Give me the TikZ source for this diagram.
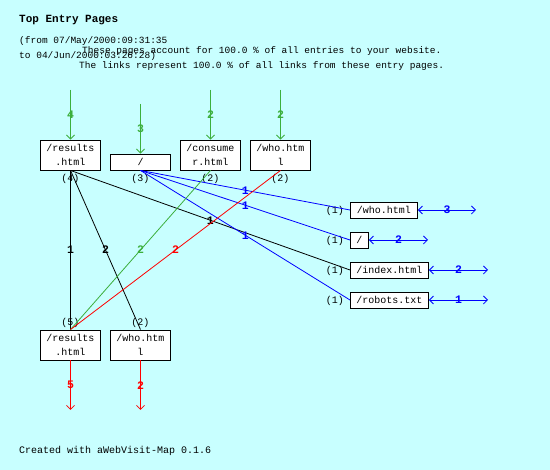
\documentclass[tikz,border=0pt]{standalone}
\usepackage{fontspec}
\setmainfont{Liberation Mono}
\usetikzlibrary{arrows.meta}
\definecolor{bg}{RGB}{200,255,255}
\definecolor{grn}{RGB}{60,175,60}
\definecolor{blu}{RGB}{0,0,255}
\definecolor{rd}{RGB}{255,0,0}
\begin{document}
\begin{tikzpicture}[x=1pt,y=-1pt,
 pg/.style={draw=black, fill=white, line width=0.9pt, inner sep=0pt, align=center, font=\fontsize{10}{14}\selectfont},
 cnt/.style={font=\fontsize{10}{12}\selectfont, inner sep=0pt},
 lbl/.style={font=\fontsize{11.5}{12}\selectfont\bfseries, inner sep=0pt},
 hdr/.style={font=\fontsize{9.5}{12}\selectfont, inner sep=0pt, anchor=west},
 ln/.style={line width=0.8pt},
 tip/.style={-{Straight Barb[length=4pt,width=8pt]}},
 dtip/.style={{Straight Barb[length=4pt,width=8pt]}-{Straight Barb[length=4pt,width=8pt]}},
]
\fill[bg] (0,0) rectangle (550,470);
\useasboundingbox (0,0) rectangle (550,470);

% header
\node[anchor=west, inner sep=0pt, font=\fontsize{11}{13}\selectfont\bfseries] (title) at (19,20) {Top Entry Pages};
\node[hdr] (from) at (19,41) {(from 07/May/2000:09:31:35};
\node[hdr] (to) at (19,56.5) {to 04/Jun/2000:03:26:28)};
\node[hdr] (acc) at (82,51.5) {These pages account for 100.0 \% of all entries to your website.};
\node[hdr] (lnk) at (79,66) {The links represent 100.0 \% of all links from these entry pages.};

% top row
\node[pg, minimum width=60, minimum height=30] (r1) at (70.5,155) {/results\\.html};
\node[pg, minimum width=60, minimum height=16] (s1) at (140.5,162) {/};
\node[pg, minimum width=60, minimum height=30] (c1) at (210.5,155) {/consume\\r.html};
\node[pg, minimum width=60, minimum height=30] (w1) at (280.5,155) {/who.htm\\l};

% bottom row
\node[pg, minimum width=60, minimum height=30] (r2) at (70.5,345) {/results\\.html};
\node[pg, minimum width=60, minimum height=30] (w2) at (140.5,345) {/who.htm\\l};

% right column
\node[pg, anchor=west, minimum width=67, minimum height=16] (rw) at (350,210) {/who.html};
\node[pg, anchor=west, minimum width=18, minimum height=16] (rs) at (350,240) {/};
\node[pg, anchor=west, minimum width=78, minimum height=16] (ri) at (350,270) {/index.html};
\node[pg, anchor=west, minimum width=78, minimum height=16] (rr) at (350,300) {/robots.txt};

% counts
\node[cnt] (n1) at (70.5,178.5) {(4)};
\node[cnt] (n2) at (140.5,178.5) {(3)};
\node[cnt] (n3) at (210.5,178.5) {(2)};
\node[cnt] (n4) at (280.5,178.5) {(2)};
\node[cnt] (n5) at (70.5,322.5) {(5)};
\node[cnt] (n6) at (140.5,322.5) {(2)};
\node[cnt, anchor=east] (n7) at (344,210.5) {(1)};
\node[cnt, anchor=east] (n8) at (344,240.5) {(1)};
\node[cnt, anchor=east] (n9) at (344,270.5) {(1)};
\node[cnt, anchor=east] (n10) at (344,300.5) {(1)};

% incoming
\coordinate (i1) at (70.5,90);
\coordinate (i2) at (140.5,104);
\coordinate (i3) at (210.5,90);
\coordinate (i4) at (280.5,90);
\draw[grn, ln, tip] (i1) -- node[lbl]{4} (r1.north);
\draw[grn, ln, tip] (i2) -- node[lbl]{3} (s1.north);
\draw[grn, ln, tip] (i3) -- node[lbl]{2} (c1.north);
\draw[grn, ln, tip] (i4) -- node[lbl]{2} (w1.north);

% outgoing
\coordinate (o1) at (70.5,410);
\coordinate (o2) at (140.5,410);
\draw[rd, ln, tip] (r2.south) -- node[lbl]{5} (o1);
\draw[rd, ln, tip] (w2.south) -- node[lbl]{2} (o2);

% links
\draw[ln] (r1.south) -- node[lbl]{1} (r2.north);
\draw[ln] (r1.south) -- node[lbl]{2} (w2.north);
\draw[ln] (r1.south) -- node[lbl]{1} (ri.west);
\draw[ln, blu] (s1.south) -- node[lbl]{1} (rw.west);
\draw[ln, blu] (s1.south) -- node[lbl]{1} (rs.west);
\draw[ln, blu] (s1.south) -- node[lbl]{1} (rr.west);
\draw[ln, grn] (c1.south) -- node[lbl]{2} (r2.north);
\draw[ln, rd] (w1.south) -- node[lbl]{2} (r2.north);

% exits on the right
\coordinate (e1) at (476,210);
\coordinate (e2) at (428,240);
\coordinate (e3) at (488,270);
\coordinate (e4) at (488,300);
\draw[blu, ln, dtip] (rw.east) -- node[lbl]{3} (e1);
\draw[blu, ln, dtip] (rs.east) -- node[lbl]{2} (e2);
\draw[blu, ln, dtip] (ri.east) -- node[lbl]{2} (e3);
\draw[blu, ln, dtip] (rr.east) -- node[lbl]{1} (e4);

% footer
\node[anchor=west, inner sep=0pt, font=\fontsize{10}{12}\selectfont] (foot) at (19,451) {Created with aWebVisit-Map 0.1.6};
\end{tikzpicture}
\end{document}
